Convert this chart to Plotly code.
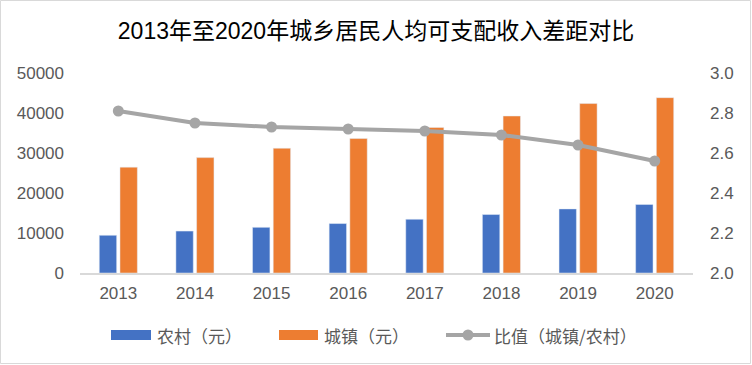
import plotly.graph_objects as go

years = ["2013", "2014", "2015", "2016", "2017", "2018", "2019", "2020"]
rural = [9430, 10489, 11422, 12363, 13432, 14617, 16021, 17131]
urban = [26467, 28844, 31195, 33616, 36396, 39251, 42359, 43834]
ratio = [2.81, 2.75, 2.73, 2.72, 2.71, 2.69, 2.64, 2.56]
names = ["农村（元）", "城镇（元）", "比值（城镇/农村）"]

FONT = "Liberation Sans, Noto Sans CJK SC, sans-serif"
CJK = "Noto Sans CJK SC, Liberation Sans, sans-serif"
TXT = "#595959"
BLUE, ORANGE, GREY = "#4472C4", "#ED7D31", "#A5A5A5"

L, R, T, B = 80, 59, 73, 92
W, H = 752, 365
pw, ph = W - L - R, H - T - B


def px(x):
    return (x - L) / pw


def py(y):
    return (T + ph - y) / ph


fig = go.Figure()
fig.add_trace(go.Bar(x=years, y=rural, name=names[0], marker_color=BLUE))
fig.add_trace(go.Bar(x=years, y=urban, name=names[1], marker_color=ORANGE))
fig.add_trace(go.Scatter(x=years, y=ratio, name=names[2], yaxis="y2",
                         mode="lines+markers",
                         line=dict(color=GREY, width=4),
                         marker=dict(color=GREY, size=11)))

# manual legend (Excel style)
ly = 335
shapes = [
    dict(type="rect", xref="paper", yref="paper", x0=px(111), x1=px(151),
         y0=py(ly + 5), y1=py(ly - 5), fillcolor=BLUE, line=dict(width=0)),
    dict(type="rect", xref="paper", yref="paper", x0=px(279), x1=px(318),
         y0=py(ly + 5), y1=py(ly - 5), fillcolor=ORANGE, line=dict(width=0)),
    dict(type="line", xref="paper", yref="paper", x0=px(446), x1=px(490),
         y0=py(ly), y1=py(ly), line=dict(color=GREY, width=4)),
    dict(type="circle", xref="paper", yref="paper", x0=px(462.5), x1=px(473.5),
         y0=py(ly + 5.5), y1=py(ly - 5.5), fillcolor=GREY, line=dict(width=0)),
    dict(type="rect", xref="paper", yref="paper",
         x0=-(L - 0.5) / pw, x1=1 + (R - 1.5) / pw,
         y0=-(B - 1.5) / ph, y1=1 + (T - 0.5) / ph,
         line=dict(color="#D9D9D9", width=1), layer="below"),
]
annotations = [
    dict(text=names[0], x=px(155), y=py(ly), xref="paper", yref="paper",
         xanchor="left", yanchor="middle", showarrow=False,
         font=dict(family=CJK, size=17, color=TXT)),
    dict(text=names[1], x=px(322), y=py(ly), xref="paper", yref="paper",
         xanchor="left", yanchor="middle", showarrow=False,
         font=dict(family=CJK, size=17, color=TXT)),
    dict(text=names[2], x=px(492), y=py(ly), xref="paper", yref="paper",
         xanchor="left", yanchor="middle", showarrow=False,
         font=dict(family=CJK, size=17, color=TXT)),
]

fig.update_layout(
    width=W, height=H,
    margin=dict(l=L, r=R, t=T, b=B, autoexpand=False),
    paper_bgcolor="white", plot_bgcolor="white",
    font=dict(family=FONT, size=17, color=TXT),
    title=dict(text="2013年至2020年城乡居民人均可支配收入差距对比",
               x=0.5, xanchor="center", y=1 - 31 / H, yanchor="middle",
               font=dict(size=23, color="#000000", family=FONT)),
    barmode="group", bargap=0.46, bargroupgap=0.16,
    showlegend=False,
    xaxis=dict(showline=True, linecolor="#D9D9D9", linewidth=1.5, ticks="",
               tickfont=dict(size=17, color=TXT), showgrid=False, ticklabelstandoff=4),
    yaxis=dict(range=[0, 50000], tickvals=[0, 10000, 20000, 30000, 40000, 50000],
               tickformat="d", showgrid=False, zeroline=False, ticks="",
               tickfont=dict(size=17, color=TXT), ticklabelstandoff=15),
    yaxis2=dict(range=[2.0, 3.0], tickvals=[2.0, 2.2, 2.4, 2.6, 2.8, 3.0],
                tickformat=".1f", overlaying="y", side="right", showgrid=False,
                zeroline=False, ticks="", tickfont=dict(size=17, color=TXT),
                ticklabelstandoff=16),
    shapes=shapes,
    annotations=annotations,
)

fig.write_html("out.html", config={"displayModeBar": False},
               post_script="document.body.style.margin='0px';")
